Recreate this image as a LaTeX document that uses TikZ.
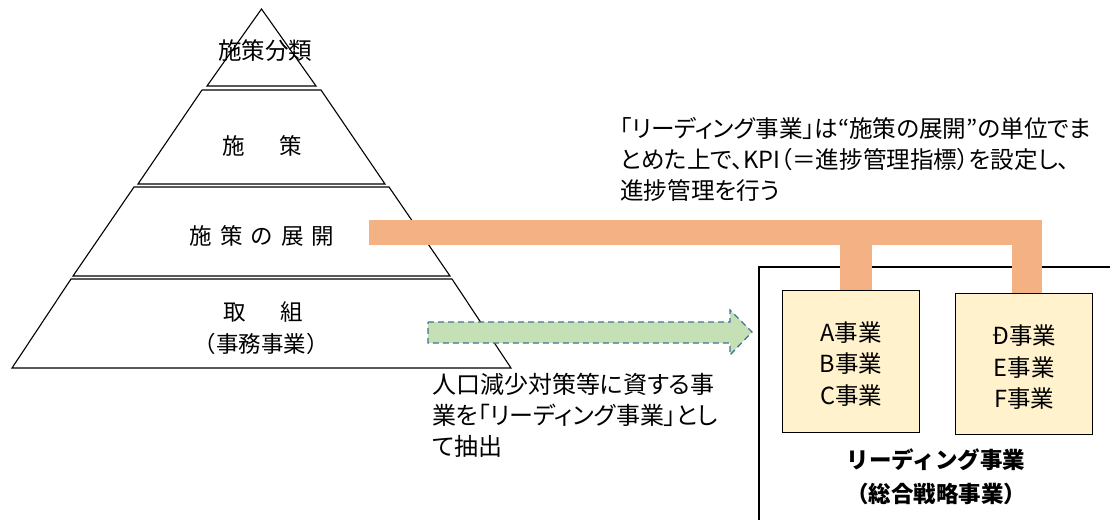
\documentclass[tikz,border=0pt]{standalone}
\usepackage{fontspec}
\setmainfont{Noto Sans CJK JP}
\newfontfamily\paltfont[RawFeature=+palt]{Noto Sans CJK JP}
\definecolor{orangebar}{HTML}{F4B183}
\definecolor{greenfill}{HTML}{C5E0B4}
\definecolor{bluedash}{HTML}{41719C}
\definecolor{boxfill}{HTML}{FFF2CC}
\tikzset{
  layer/.style={draw=black, line width=1.1pt, fill=white},
  orange/.style={fill=orangebar, draw=none},
  bizbox/.style={draw=black, line width=1.3pt, fill=boxfill},
  ptxt/.style={inner sep=0pt, font=\fontsize{22.5}{30}\selectfont},
  bxtxt/.style={inner sep=0pt, align=center, font=\fontsize{23.5}{31.5}\selectfont},
  boldtxt/.style={inner sep=0pt, font=\bfseries\fontsize{22.5}{30}\selectfont},
  notetxt/.style={inner sep=0pt, anchor=base west, font=\paltfont\fontsize{23.6}{31}\selectfont},
  extxt/.style={inner sep=0pt, anchor=base west, font=\paltfont\fontsize{24}{31}\selectfont},
}
\begin{document}
\begin{tikzpicture}[x=1pt,y=-1pt]
\useasboundingbox (0,0) rectangle (1110,519);
\clip (0,0) rectangle (1110,519);
% pyramid layers
\draw[layer] (261.5,9) -- (316,86) -- (207,86) -- cycle;
\draw[layer] (202,90) -- (321,90) -- (385,184) -- (138,184) -- cycle;
\draw[layer] (134,187) -- (389,187) -- (450,276) -- (73,276) -- cycle;
\draw[layer] (71,279) -- (452,279) -- (511,368) -- (12,368) -- cycle;
\node[ptxt, font=\fontsize{23.5}{30}\selectfont] (l1) at (265,51) {施策分類};
\node[ptxt] (l2) at (262,146) {施\hspace{34pt}策};
\node[ptxt] (l3) at (262,236) {施\hspace{8pt}策\hspace{8pt}の\hspace{8pt}展\hspace{8pt}開};
\node[ptxt] (l4) at (263,312) {取\hspace{34pt}組};
\node[ptxt] (l5) at (261,344) {（事務事業）};
% big box
\draw[line width=2.2pt] (1115,267) -- (759,267) -- (759,525);
% orange connectors
\fill[orange] (369,220) rectangle (1042,245);
\fill[orange] (840,240) rectangle (872,290);
\fill[orange] (1012,240) rectangle (1042,293);
% business boxes
\node[bizbox, minimum width=137pt, minimum height=142pt, anchor=north west] (abc) at (782,290) {};
\node[bizbox, minimum width=137pt, minimum height=141pt, anchor=north west] (def) at (955,293) {};
\node[bxtxt] (abct) at ([yshift=-2pt]abc.center) {A事業\\B事業\\C事業};
\node[bxtxt] (deft) at ([yshift=-3pt]def.center) {Đ事業\\E事業\\F事業};
\node[boldtxt] (lead) at (936,460) {リーディング事業};
\node[boldtxt] (sogo) at (936,494) {（総合戦略事業）};
% green arrow
\draw[fill=greenfill, draw=bluedash, line width=1.3pt, dash pattern=on 6pt off 4pt]
  (428,322) -- (730,322) -- (730,310) -- (752,332) -- (730,355) -- (730,343) -- (428,343) -- cycle;
% texts
\node[notetxt] (note1) at (620,137) {「リーディング事業」は“施策の展開”の単位でま};
\node[notetxt] (note2) at (620,168) {とめた上で、KPI（＝進捗管理指標）を設定し、};
\node[notetxt] (note3) at (620,199) {進捗管理を行う};
\node[extxt] (ex1) at (432,393) {人口減少対策等に資する事};
\node[extxt] (ex2) at (432,424) {業を「リーディング事業」とし};
\node[extxt] (ex3) at (432,455) {て抽出};
\end{tikzpicture}
\end{document}
